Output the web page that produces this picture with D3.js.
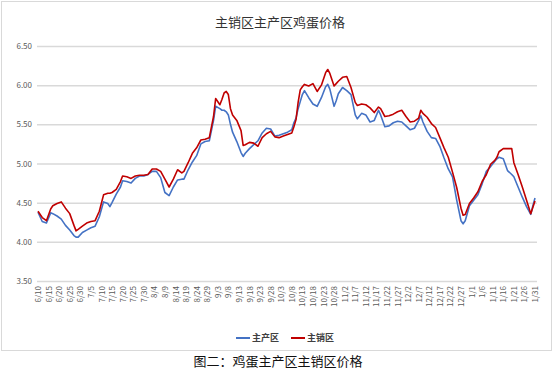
<!DOCTYPE html>
<html>
<head>
<meta charset="utf-8">
<script src="https://d3js.org/d3.v7.min.js"></script>
<style>
body { margin: 0; background: #fff; font-family: "Noto Sans CJK SC", "Noto Sans", sans-serif; }
.axis path { display: none; }
.axis line { stroke: #d9d9d9; }
.axis text { fill: #595959; font-size: 8px; font-family: "Noto Sans CJK SC", sans-serif; }
</style>
</head>
<body>
<div id="chart"></div>
<script>
// days since 6/10
var days = [0, 2, 4, 6, 7, 9, 11, 13, 15, 17, 18, 19, 21, 23, 25, 27, 29, 31, 33, 34, 35, 37, 39, 40,
  42, 44, 46, 48, 50, 52, 54, 56, 58, 60, 62, 64, 66, 68, 69, 71, 73, 75, 77, 79, 81, 83, 84, 86,
  87, 88, 89, 90, 91, 92, 94, 96, 97, 98, 100, 102, 104, 106, 108, 110, 112, 114, 116, 118, 120,
  121, 122, 123, 124, 125, 126, 128, 130, 132, 134, 136, 137, 138, 140, 141, 142, 144, 146, 148,
  150, 151, 153, 155, 157, 159, 161, 162, 164, 166, 168, 170, 172, 174, 176, 178, 180, 181, 182,
  184, 186, 188, 190, 192, 194, 196, 198, 200, 201, 202, 204, 206, 208, 210, 212, 214, 216, 217,
  218, 220, 222, 224, 225, 227, 229, 231, 233, 234, 235];

// 主产区
var producing = [4.38, 4.26, 4.24, 4.37, 4.36, 4.33, 4.29, 4.21, 4.15, 4.08, 4.06, 4.06, 4.12, 4.15,
  4.18, 4.20, 4.32, 4.51, 4.49, 4.45, 4.50, 4.61, 4.70, 4.78,
  4.77, 4.75, 4.81, 4.84, 4.84, 4.86, 4.90, 4.90, 4.82, 4.63, 4.59, 4.70, 4.79, 4.80, 4.80, 4.92,
  5.02, 5.10, 5.25, 5.28, 5.29, 5.55, 5.73, 5.70,
  5.68, 5.68, 5.66, 5.62, 5.50, 5.40, 5.28, 5.14, 5.09, 5.13, 5.19, 5.24, 5.29, 5.39, 5.45, 5.44,
  5.35, 5.36, 5.38, 5.40, 5.43,
  5.52, 5.58, 5.70, 5.79, 5.88, 5.93, 5.84, 5.76, 5.73, 5.84, 5.98, 6.01, 5.95, 5.73, 5.80, 5.89,
  5.97, 5.93, 5.88,
  5.62, 5.57, 5.64, 5.62, 5.53, 5.55, 5.68, 5.62, 5.47, 5.48, 5.52, 5.54, 5.53, 5.48, 5.43, 5.45,
  5.55, 5.61, 5.53,
  5.41, 5.33, 5.32, 5.22, 5.07, 4.93, 4.83, 4.53, 4.27, 4.23, 4.27, 4.46, 4.53, 4.60, 4.74, 4.90,
  4.96, 5.03, 5.06,
  5.08, 5.06, 4.91, 4.86, 4.83, 4.70, 4.57, 4.45, 4.35, 4.46, 4.56];

// 主销区
var consuming = [4.39, 4.31, 4.27, 4.42, 4.46, 4.49, 4.51, 4.43, 4.36, 4.21, 4.14, 4.16, 4.20, 4.24,
  4.26, 4.27, 4.39, 4.60, 4.62, 4.62, 4.63, 4.67, 4.77, 4.84,
  4.83, 4.81, 4.84, 4.85, 4.85, 4.86, 4.93, 4.93, 4.90, 4.80, 4.70, 4.80, 4.92, 4.88, 4.90, 5.01,
  5.13, 5.20, 5.30, 5.31, 5.33, 5.60, 5.83, 5.75,
  5.82, 5.90, 5.92, 5.88, 5.70, 5.62, 5.55, 5.42, 5.23, 5.24, 5.27, 5.26, 5.22, 5.33, 5.38, 5.41,
  5.34, 5.33, 5.35, 5.37, 5.39,
  5.47, 5.56, 5.78, 5.94, 5.98, 6.01, 5.99, 6.02, 5.92, 6.00, 6.16, 6.20, 6.15, 5.99, 6.02, 6.05,
  6.10, 6.11, 5.97,
  5.78, 5.74, 5.76, 5.75, 5.71, 5.65, 5.72, 5.70, 5.60, 5.61, 5.63, 5.66, 5.68, 5.60, 5.53, 5.54,
  5.58, 5.68, 5.64,
  5.59, 5.51, 5.46, 5.33, 5.20, 5.08, 4.89, 4.69, 4.43, 4.34, 4.35, 4.49, 4.56, 4.64, 4.77, 4.86,
  4.99, 5.04, 5.08,
  5.15, 5.19, 5.19, 5.19, 5.01, 4.86, 4.70, 4.53, 4.36, 4.44, 4.52];

var xLabels = ["6/10", "6/15", "6/20", "6/25", "6/30", "7/5", "7/10", "7/15", "7/20", "7/25", "7/30",
  "8/4", "8/9", "8/14", "8/19", "8/24", "8/29", "9/3", "9/8", "9/13", "9/18", "9/23", "9/28",
  "10/3", "10/8", "10/13", "10/18", "10/23", "10/28", "11/2", "11/7", "11/12", "11/17", "11/22",
  "11/27", "12/2", "12/7", "12/12", "12/17", "12/22", "12/27", "1/1", "1/6", "1/11", "1/16",
  "1/21", "1/26", "1/31"];
var yTicks = [3.5, 4.0, 4.5, 5.0, 5.5, 6.0, 6.5];

var seriesNames = ["主产区", "主销区"];
var colors = ["#4472c4", "#c00000"];

var width = 555, height = 370;
var svg = d3.select("#chart").append("svg").attr("width", width).attr("height", height);

// chart frame
svg.append("rect").attr("x", 1.5).attr("y", 1.5).attr("width", 550).attr("height", 349)
  .attr("fill", "#fff").attr("stroke", "#d9d9d9");

svg.append("text").attr("x", 280).attr("y", 27).attr("text-anchor", "middle")
  .attr("font-size", 13).attr("fill", "#333").text("主销区主产区鸡蛋价格");

var xScale = d3.scaleLinear().domain([0, 235]).range([38, 535]);
var yScale = d3.scaleLinear().domain([3.5, 6.5]).range([281, 46]);

var yAxis = d3.axisLeft(yScale).tickValues(yTicks).tickFormat(d3.format(".2f"))
  .tickSize(-500).tickPadding(5);
svg.append("g").attr("class", "axis").attr("transform", "translate(37,0)").call(yAxis)
  .selectAll("line").attr("stroke-width", 1.5);

var xAxis = d3.axisBottom(xScale).tickValues(d3.range(0, 236, 5))
  .tickFormat(function (d, i) { return xLabels[i]; }).tickSize(0);
svg.append("g").attr("class", "axis").attr("transform", "translate(0,281)").call(xAxis)
  .selectAll("text")
  .attr("transform", "rotate(-90)")
  .attr("text-anchor", "end")
  .attr("x", -5).attr("y", 0).attr("dy", "0.32em");

var lineGen = d3.line()
  .x(function (d) { return xScale(d.day); })
  .y(function (d) { return yScale(d.v); });

[producing, consuming].forEach(function (vals, k) {
  var pts = days.map(function (d, i) { return { day: d, v: vals[i] }; });
  svg.append("path").datum(pts)
    .attr("fill", "none").attr("stroke", colors[k]).attr("stroke-width", 1.6)
    .attr("stroke-linejoin", "round").attr("d", lineGen);
});

// legend
var legend = svg.append("g").attr("transform", "translate(236,338)");
seriesNames.forEach(function (name, k) {
  var g = legend.append("g").attr("transform", "translate(" + (k * 55) + ",0)");
  g.append("line").attr("x1", 0).attr("x2", 14).attr("y1", 0).attr("y2", 0)
    .attr("stroke", colors[k]).attr("stroke-width", 2);
  g.append("text").attr("x", 16).attr("y", 0).attr("dy", "0.35em")
    .attr("font-size", 9).attr("font-weight", "bold").attr("fill", "#404040").text(name);
});

svg.append("text").attr("x", 278).attr("y", 366).attr("text-anchor", "middle")
  .attr("font-size", 13).attr("fill", "#111").text("图二：鸡蛋主产区主销区价格");
</script>
</body>
</html>
